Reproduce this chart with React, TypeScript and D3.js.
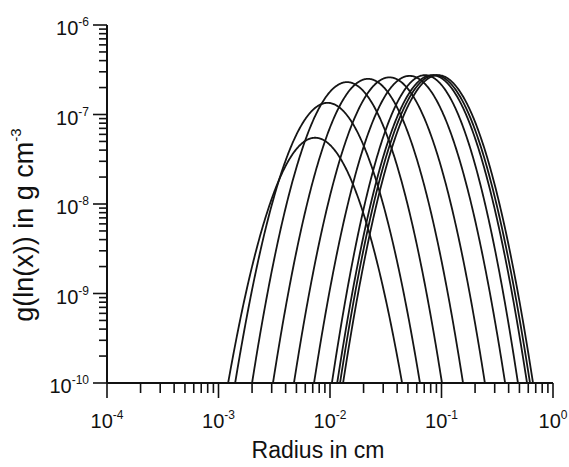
import React from "react";
import * as d3 from "d3";

// Each curve: radius (cm) where it meets 1e-10 on the left and right, and peak value.
const leftFoot = [1.22e-3, 1.41e-3, 2.0e-3, 3.08e-3, 4.75e-3, 7.19e-3, 1.04e-2, 1.16e-2, 1.23e-2, 1.31e-2];
const rightFoot = [0.0443, 0.0641, 0.101, 0.156, 0.245, 0.372, 0.485, 0.585, 0.622, 0.662];
const peakValue = [5.5e-8, 1.35e-7, 2.3e-7, 2.5e-7, 2.6e-7, 2.7e-7, 2.75e-7, 2.75e-7, 2.75e-7, 2.75e-7];

const xTickExps = [-4, -3, -2, -1, 0];
const yTickExps = [-10, -9, -8, -7, -6];

const W = 569;
const H = 467;
const FONT = "'Liberation Sans', Arial, Helvetica, sans-serif";

export default function App() {
  const x = d3.scaleLog().domain([1e-4, 1]).range([107, 553]);
  const y = d3.scaleLog().domain([1e-10, 1e-6]).range([383, 25]);

  const line = d3
    .line<[number, number]>()
    .x((d) => x(d[0]))
    .y((d) => y(d[1]))
    .curve(d3.curveLinear);

  const curves = leftFoot.map((lf, i) => {
    const uL = Math.log10(lf);
    const uR = Math.log10(rightFoot[i]);
    const c = (uL + uR) / 2;
    const w = (uR - uL) / 2;
    const lp = Math.log10(peakValue[i]);
    const h = lp + 10;
    const n = 240;
    const pts: [number, number][] = [];
    for (let k = 0; k <= n; k++) {
      const u = uL + ((uR - uL) * k) / n;
      const t = (u - c) / w;
      const lv = lp - h * t * t;
      pts.push([Math.pow(10, u), Math.pow(10, Math.max(lv, -10))]);
    }
    return line(pts) as string;
  });

  const xMinor: number[] = [];
  for (let e = -4; e < 0; e++) for (let m = 2; m <= 9; m++) xMinor.push(m * Math.pow(10, e));
  const yMinor: number[] = [];
  for (let e = -10; e < -6; e++) for (let m = 2; m <= 9; m++) yMinor.push(m * Math.pow(10, e));

  return (
    <svg width={W} height={H} style={{ position: "absolute", left: 0, top: 0, background: "#fff" }} fontFamily={FONT}>
      <rect x={0} y={0} width={W} height={H} fill="#fff" />
      {/* curves */}
      <g fill="none" stroke="#151515" strokeWidth={1.8} strokeLinejoin="round">
        {curves.map((d, i) => (
          <path key={i} d={d} />
        ))}
      </g>
      {/* axes lines */}
      <g stroke="#111" strokeWidth={2}>
        <line x1={x(1e-4)} x2={x(1)} y1={y(1e-10)} y2={y(1e-10)} />
        <line x1={x(1e-4)} x2={x(1e-4)} y1={y(1e-6)} y2={y(1e-10)} />
      </g>
      {/* x ticks */}
      <g stroke="#111" strokeWidth={1.6}>
        {xTickExps.map((e) => (
          <line key={"xm" + e} x1={x(Math.pow(10, e))} x2={x(Math.pow(10, e))} y1={y(1e-10)} y2={y(1e-10) + 15} />
        ))}
        {xMinor.map((v, i) => (
          <line key={"xn" + i} x1={x(v)} x2={x(v)} y1={y(1e-10)} y2={y(1e-10) + 10} />
        ))}
        {yTickExps.map((e) => (
          <line key={"ym" + e} x1={x(1e-4) - 14} x2={x(1e-4)} y1={y(Math.pow(10, e))} y2={y(Math.pow(10, e))} />
        ))}
        {yMinor.map((v, i) => (
          <line key={"yn" + i} x1={x(1e-4) - 8} x2={x(1e-4)} y1={y(v)} y2={y(v)} />
        ))}
      </g>
      {/* x tick labels */}
      <g fill="#111" fontSize={20}>
        {xTickExps.map((e) => (
          <text key={"xl" + e} x={x(Math.pow(10, e))} y={428} textAnchor="middle">
            10
            <tspan fontSize={12} dy={-9}>
              {String(e)}
            </tspan>
          </text>
        ))}
        {yTickExps.map((e) => (
          <text key={"yl" + e} x={89} y={y(Math.pow(10, e)) + 10} textAnchor="end">
            10
            <tspan fontSize={12} dy={-9}>
              {String(e)}
            </tspan>
          </text>
        ))}
      </g>
      {/* axis titles */}
      <text x={318} y={458} textAnchor="middle" fontSize={23} fill="#111">
        Radius in cm
      </text>
      <text transform="translate(33,225) rotate(-90)" textAnchor="middle" fontSize={27} fill="#111">
        g(ln(x)) in g cm
        <tspan fontSize={15} dy={-12}>
          -3
        </tspan>
      </text>
    </svg>
  );
}
